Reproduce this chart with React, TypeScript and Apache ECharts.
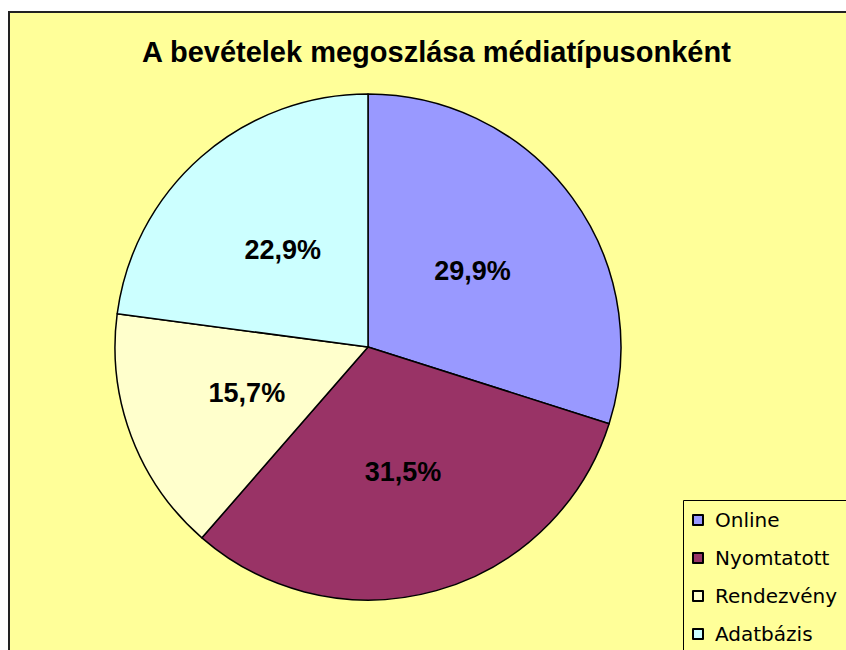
import React, { useEffect, useRef } from "react";
import * as echarts from "echarts";

const categories = ["Online", "Nyomtatott", "Rendezvény", "Adatbázis"];
const values = [29.9, 31.5, 15.7, 22.9];
const colors = ["#9999FF", "#993366", "#FFFFCC", "#CCFFFF"];
const titleText = "A bevételek megoszlása médiatípusonként";

export default function App() {
  const ref = useRef<HTMLDivElement>(null);
  useEffect(() => {
    if (!ref.current) return;
    const chart = echarts.init(ref.current, null, { renderer: "svg" });
    chart.setOption({
      animation: false,
      backgroundColor: "#ffffff",
      graphic: [
        {
          type: "rect",
          z: -10,
          shape: { x: 9, y: 12, width: 900, height: 700 },
          style: { fill: "#FFFF99", stroke: "#222222", lineWidth: 2 },
          silent: true,
        },
        {
          type: "rect",
          z: -5,
          shape: { x: 683.5, y: 500.5, width: 200, height: 200 },
          style: { fill: "#FFFF99", stroke: "#000000", lineWidth: 1 },
          silent: true,
        },
      ],
      title: {
        text: titleText,
        left: 142,
        top: 37,
        padding: 0,
        textStyle: {
          fontFamily: "Liberation Sans, Arial, sans-serif",
          fontWeight: "bold",
          fontSize: 29,
          color: "#000000",
        },
      },
      legend: {
        orient: "vertical",
        left: 683,
        top: 500,
        padding: [10, 0, 0, 9],
        itemGap: 18,
        itemWidth: 10,
        itemHeight: 10,
        icon: "rect",
        data: categories,
        textStyle: {
          fontFamily: "DejaVu Sans, Arial, sans-serif",
          fontSize: 20,
          color: "#000000",
          padding: [0, 0, 0, 7],
        },
      },
      series: [
        {
          type: "pie",
          center: [368, 347],
          radius: 253,
          startAngle: 90,
          clockwise: true,
          data: categories.map((name, i) => ({
            name,
            value: values[i],
            itemStyle: { color: colors[i] },
          })),
          itemStyle: { borderColor: "#000000", borderWidth: 1.5 },
          label: {
            show: true,
            position: "inside",
            formatter: (p: any) => p.value.toFixed(1).replace(".", ",") + "%",
            fontFamily: "Liberation Sans, Arial, sans-serif",
            fontWeight: "bold",
            fontSize: 27,
            color: "#000000",
          },
          labelLine: { show: false },
          emphasis: { disabled: true },
        },
      ],
    });
    return () => chart.dispose();
  }, []);
  return (
    <div
      ref={ref}
      style={{ position: "absolute", left: 0, top: 0, width: 846, height: 650 }}
    />
  );
}
